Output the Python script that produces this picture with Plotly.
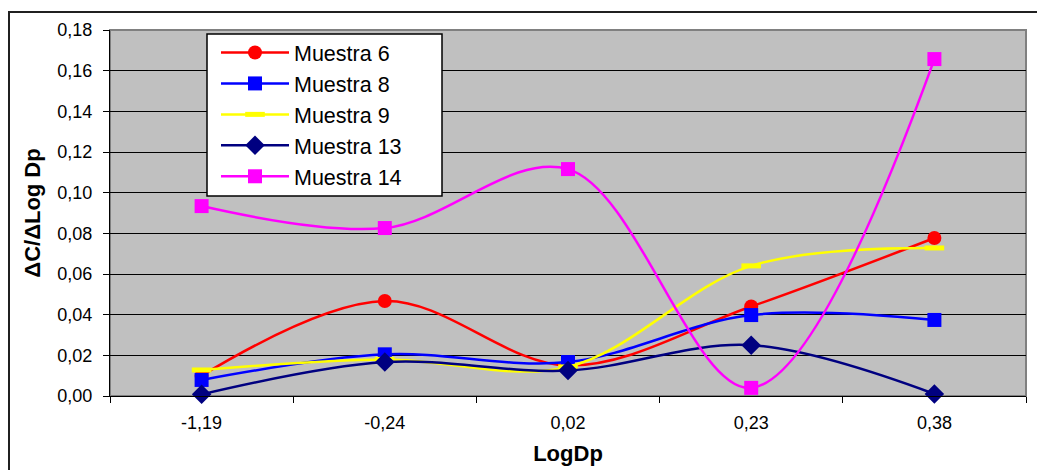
import plotly.graph_objects as go

# Category positions on the LogDp axis
categorias = ["-1,19", "-0,24", "0,02", "0,23", "0,38"]

muestra_6 = [0.010, 0.0467, 0.015, 0.0440, 0.0777]
muestra_8 = [0.0079, 0.0205, 0.0167, 0.0398, 0.0374]
muestra_9 = [0.0128, 0.0180, 0.0143, 0.0640, 0.0728]
muestra_13 = [0.0008, 0.0167, 0.0125, 0.0250, 0.0010]
muestra_14 = [0.0934, 0.0826, 0.1116, 0.0040, 0.1657]

y_ticks = [0.00, 0.02, 0.04, 0.06, 0.08, 0.10, 0.12, 0.14, 0.16, 0.18]

series = [
    ("Muestra 6", muestra_6, "#FF0000", dict(symbol="circle", size=14)),
    ("Muestra 8", muestra_8, "#0000FF", dict(symbol="square", size=14)),
    ("Muestra 9", muestra_9, "#FFFF00", dict(symbol="line-ew", size=14,
                                            line=dict(color="#FFFF00", width=5))),
    ("Muestra 13", muestra_13, "#000080", dict(symbol="diamond", size=15)),
    ("Muestra 14", muestra_14, "#FF00FF", dict(symbol="square", size=14)),
]

fig = go.Figure()
for name, vals, color, mk in series:
    marker = dict(color=color, **mk)
    fig.add_trace(go.Scatter(
        x=categorias, y=vals, name=name, mode="lines+markers",
        line=dict(color=color, width=2.5, shape="spline", smoothing=1.0),
        marker=marker, cliponaxis=False,
    ))

L, R, T, B = 110, 11, 30, 74
W, H = 1037, 470
pw, ph = W - L - R, H - T - B


def px_x(v):
    return (v - L) / pw


def px_y(v):
    return (H - B - v) / ph


fig.update_layout(
    width=W, height=H,
    margin=dict(l=L, r=R, t=T, b=B, pad=0),
    paper_bgcolor="white",
    plot_bgcolor="#C0C0C0",
    separators=",.",
    font=dict(family="Arial, Liberation Sans, sans-serif", color="black"),
    showlegend=True,
    legend=dict(
        x=px_x(216), y=px_y(32), xanchor="left", yanchor="top",
        bgcolor="rgba(0,0,0,0)", borderwidth=0,
        font=dict(size=21.5, color="black"),
        tracegroupgap=0, itemwidth=68,
    ),
    xaxis=dict(
        type="category", range=[-0.5, 4.5], automargin=False,
        showgrid=False, showline=True, linecolor="black", linewidth=1,
        ticks="outside", tickson="boundaries", ticklen=6, tickcolor="black",
        tickfont=dict(size=18), ticklabelstandoff=10,
        title=dict(text="<b>LogDp</b>", font=dict(size=22), standoff=14),
    ),
    yaxis=dict(
        range=[0, 0.18], tickvals=y_ticks, tickformat=".2f", automargin=False,
        showgrid=True, gridcolor="black", gridwidth=1,
        showline=True, linecolor="black", linewidth=1,
        ticks="outside", ticklen=6, tickcolor="black",
        tickfont=dict(size=18), ticklabelstandoff=7, zeroline=False,
        title=dict(text="<b>ΔC/ΔLog Dp</b>", font=dict(size=22), standoff=10),
    ),
    shapes=[
        # plot area frame (top and right edges)
        dict(type="rect", xref="paper", yref="paper", x0=0, x1=1, y0=0, y1=1,
             line=dict(color="#808080", width=2), layer="below"),
        # chart outer frame
        dict(type="rect", xref="paper", yref="paper",
             x0=px_x(9), x1=px_x(1045), y0=px_y(490), y1=px_y(12),
             line=dict(color="#202020", width=2)),
        # legend box
        dict(type="rect", xref="paper", yref="paper",
             x0=px_x(207), x1=px_x(442), y0=px_y(196), y1=px_y(34),
             fillcolor="white", line=dict(color="black", width=1.5),
             layer="above"),
    ],
)

fig.write_html("out.html")
